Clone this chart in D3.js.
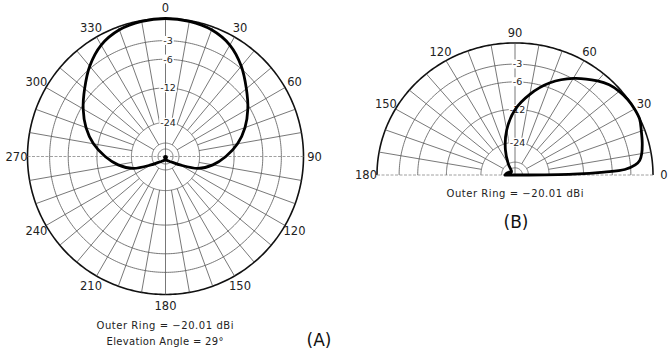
<!DOCTYPE html>
<html>
<head>
<meta charset="utf-8">
<script src="https://cdn.jsdelivr.net/npm/d3@7"></script>
<style>
  body { margin: 0; background: #fff; }
  svg { display: block; font-family: "DejaVu Sans", sans-serif; }
</style>
</head>
<body>
<div id="chart"></div>
<script>
// (A) azimuth pattern, dB below peak, clockwise from 0
const azAngles = [0, 10, 20, 30, 40, 50, 60, 70, 80, 90, 100, 110, 120, 130, 140, 150, 160, 170,
                  180, 190, 200, 210, 220, 230, 240, 250, 260, 270, 280, 290, 300, 310, 320, 330, 340, 350];
const azGain = [0, -0.1, -0.4, -1.2, -2.7, -4.6, -6.4, -8.4, -10.9, -14.2, -18.1, -23.7, -36, -46.5, -52.5, -57, -60, -62,
                -63, -62, -60, -57, -52.5, -46.5, -36, -23.7, -18.1, -14.2, -10.9, -8.4, -6.4, -4.6, -2.7, -1.2, -0.4, -0.1];

// (B) elevation pattern, counter-clockwise from horizon
const elAngles = [0, 1, 2, 3, 5, 7, 10, 15, 20, 25, 30, 35, 40, 45, 50, 60, 70, 80, 90, 100, 110, 120, 130, 140, 150, 160, 170, 180];
const elGain = [-60, -14.8, -7.5, -3.9, -2.3, -1.6, -1.2, -0.8, -0.45, -0.05, 0, -0.05, -0.25, -0.6, -1.25, -2.9, -5.1, -8.2,
                -12.1, -18.2, -27.3, -40, -55, -58, -55, -50, -47, -45];

const ringDb = [0, -3, -6, -12, -24, -40, -50];
const ringLabelDb = [-3, -6, -12, -24];
const azTicks = [0, 30, 60, 90, 120, 150, 180, 210, 240, 270, 300, 330];
const elTicks = [0, 30, 60, 90, 120, 150, 180];
const captionA = ["Outer Ring = \u221220.01 dBi", "Elevation Angle = 29\u00b0"];
const captionB = ["Outer Ring = \u221220.01 dBi"];

const width = 672, height = 353;
const R = 138;

// ARRL style log scale: every 2 dB is a factor 0.89 in radius
const gainScale = d3.scaleLog().domain([R * Math.pow(0.89, 30), R]).range([-60, 0]);
const rOf = db => gainScale.invert(db);
const rad = d3.scaleLinear().domain([0, 360]).range([0, 2 * Math.PI]);

const svg = d3.select("#chart").append("svg")
  .attr("width", width)
  .attr("height", height);

svg.append("rect").attr("width", width).attr("height", height).attr("fill", "#fff");

const chartA = {
  cx: 165.5, cy: 156.5, full: true, a0: 0, a1: 360, up: 0, horiz: [90, 270],
  pt: (a, r) => [165.5 + r * Math.sin(rad(a)), 156.5 - r * Math.cos(rad(a))]
};
const chartB = {
  cx: 515, cy: 175, full: false, a0: 0, a1: 180, up: 90, horiz: [0, 180],
  pt: (a, r) => [515 + r * Math.cos(rad(a)), 175 - 0.957 * r * Math.sin(rad(a))]
};

function drawGrid(c, ticks) {
  const g = svg.append("g");
  const line = d3.line();

  // rings
  ringDb.forEach(db => {
    const pts = d3.range(c.a0, c.a1 + 0.5, 1).map(a => c.pt(a, rOf(db)));
    g.append("path")
      .attr("d", line(pts) + (c.full ? "Z" : ""))
      .attr("fill", "none")
      .attr("stroke", db === 0 ? "#111" : "#555")
      .attr("stroke-width", db === 0 ? 1.6 : 0.8);
  });

  // radials
  d3.range(c.a0, c.a1 + 0.5, 10).forEach(a => {
    if (c.full && a === 360) return;
    let r0 = rOf(-24);
    if (a % 30 === 0) r0 = rOf(-40);
    if (a % 90 === 0) r0 = 0;
    const isHoriz = c.horiz.includes(a);
    g.append("path")
      .attr("d", line([c.pt(a, r0), c.pt(a, R)]))
      .attr("stroke", isHoriz ? "#888" : "#555")
      .attr("stroke-width", 0.8)
      .attr("stroke-dasharray", isHoriz ? "3,1.5" : null);
  });

  // angle labels
  ticks.forEach(a => {
    const p = c.pt(a, 149);
    g.append("text")
      .attr("x", p[0]).attr("y", p[1])
      .attr("dy", "0.36em")
      .attr("text-anchor", "middle")
      .style("font-size", "11.5px")
      .attr("fill", "#222")
      .text(a);
  });

  // ring labels on the up axis
  ringLabelDb.forEach(db => {
    const p = c.pt(c.up, rOf(db));
    const t = g.append("text")
      .attr("x", p[0] + 2.5).attr("y", p[1])
      .attr("dy", "0.35em")
      .attr("text-anchor", "middle")
      .style("font-size", "9.5px")
      .attr("fill", "#222")
      .text("-" + Math.abs(db));
    const b = t.node().getBBox();
    g.insert("rect", "text:last-of-type")
      .attr("x", b.x - 1).attr("y", b.y + 1)
      .attr("width", b.width + 2).attr("height", b.height - 2)
      .attr("fill", "#fff");
  });
  return g;
}

drawGrid(chartA, azTicks);
drawGrid(chartB, elTicks);

// patterns
const azData = azAngles.map((a, i) => ({a: a, db: azGain[i]}));
const elData = elAngles.map((a, i) => ({a: a, db: elGain[i]}));

const azLine = d3.line()
  .x(d => chartA.pt(d.a, rOf(d.db))[0])
  .y(d => chartA.pt(d.a, rOf(d.db))[1])
  .curve(d3.curveCatmullRomClosed);

svg.append("path")
  .attr("d", azLine(azData))
  .attr("fill", "none")
  .attr("stroke", "#000")
  .attr("stroke-width", 2.8);

svg.append("circle")
  .attr("cx", chartA.cx).attr("cy", chartA.cy + 1)
  .attr("r", 2.4)
  .attr("fill", "#000");

const elLine = d3.line()
  .x(d => chartB.pt(d.a, rOf(d.db))[0])
  .y(d => chartB.pt(d.a, rOf(d.db))[1])
  .curve(d3.curveCatmullRom);

svg.append("path")
  .attr("d", elLine(elData) + "Z")
  .attr("fill", "none")
  .attr("stroke", "#000")
  .attr("stroke-width", 2.8)
  .attr("stroke-linejoin", "round");

// captions
const capLen = [137, 117];
captionA.forEach((s, i) => {
  svg.append("text")
    .attr("x", 165).attr("y", 325.5 + i * 15.5)
    .attr("dy", "0.35em")
    .attr("text-anchor", "middle")
    .attr("textLength", capLen[i])
    .attr("lengthAdjust", "spacing")
    .style("font-size", "10px")
    .attr("fill", "#222")
    .text(s);
});
captionB.forEach((s, i) => {
  svg.append("text")
    .attr("x", 515).attr("y", 193.5 + i * 15.5)
    .attr("dy", "0.35em")
    .attr("text-anchor", "middle")
    .attr("textLength", capLen[i])
    .attr("lengthAdjust", "spacing")
    .style("font-size", "10px")
    .attr("fill", "#222")
    .text(s);
});

svg.append("text")
  .attr("x", 319).attr("y", 340.5)
  .attr("dy", "0.35em")
  .attr("text-anchor", "middle")
  .style("font-size", "17px")
  .attr("fill", "#111")
  .text("(A)");

svg.append("text")
  .attr("x", 516).attr("y", 222)
  .attr("dy", "0.35em")
  .attr("text-anchor", "middle")
  .style("font-size", "17px")
  .attr("fill", "#111")
  .text("(B)");
</script>
</body>
</html>
